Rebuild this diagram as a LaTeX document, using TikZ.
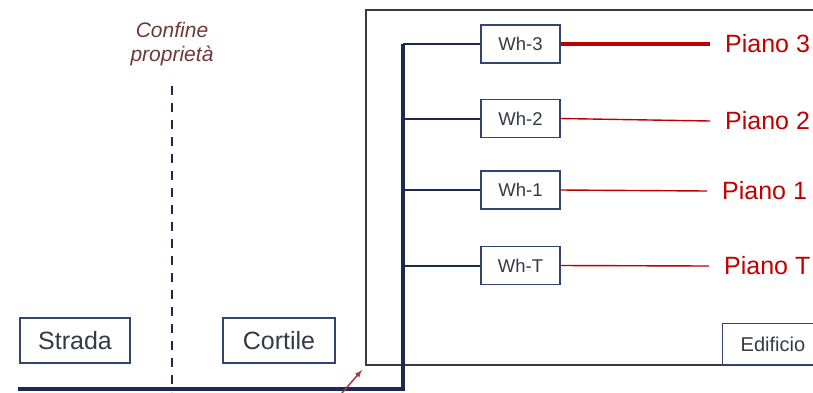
\documentclass[tikz,border=0pt]{standalone}
\usepackage{fontspec}
\setmainfont{Liberation Sans}
\definecolor{pipeblue}{HTML}{1B2A4E}
\definecolor{boxblue}{HTML}{33456E}
\definecolor{textgrey}{HTML}{363A44}
\definecolor{pianored}{HTML}{C00000}
\definecolor{confinered}{HTML}{6E3838}
\definecolor{wallgrey}{HTML}{3C3C3C}
\definecolor{arrowred}{HTML}{A03C3C}

\begin{document}
\begin{tikzpicture}[x=1pt,y=-1pt,
    place/.style={draw=boxblue,line width=1.3pt,fill=white,text=textgrey,
      font=\fontsize{25}{27}\selectfont,minimum width=110pt,minimum height=45pt},
    wh/.style={draw=boxblue,line width=1.3pt,fill=white,text=textgrey,
      font=\fontsize{18.5}{20}\selectfont,minimum width=79pt,minimum height=38pt},
    piano/.style={anchor=west,text=pianored,inner xsep=15pt,inner ysep=0pt,
      font=\fontsize{25}{27}\selectfont},
    pipe/.style={draw=pipeblue,line width=3.5pt},
    branch/.style={draw=pipeblue,line width=2pt},
    feed/.style={draw=pianored,line width=1.4pt}]
        \useasboundingbox (0,0) rectangle (813,392);
        \clip (0,0) rectangle (813,392);

        % edificio
        \draw[wallgrey,line width=2pt] (366,10) rectangle (860,365);
        \node[draw=boxblue,line width=1.3pt,fill=white,text=textgrey,anchor=west,
          font=\fontsize{20}{22}\selectfont,inner xsep=18pt,minimum height=41pt]
          (edificio) at (722,344) {Edificio};

        % confine
        \node[text=confinered,align=center,inner sep=0pt,
          font=\itshape\fontsize{21}{24}\selectfont] (confine) at (172,44) {Confine\\proprietà};
        \coordinate (bt) at (172,86);
        \coordinate (bb) at (172,392);
        \draw[pipeblue,line width=2.7pt,dash pattern=on 9pt off 8pt] (bt) -- (bb);

        \node[place] (strada) at (75,340.5) {Strada};
        \node[place,minimum width=112pt] (cortile) at (279,340.5) {Cortile};

        % contatori
        \node[wh] (wh3) at (520.5,44) {Wh-3};
        \node[wh] (wh2) at (520.5,118.5) {Wh-2};
        \node[wh] (wh1) at (520.5,190) {Wh-1};
        \node[wh] (wht) at (520.5,265.5) {Wh-T};

        \node[piano] (p3) at (710,44) {Piano 3};
        \node[piano] (p2) at (710,121) {Piano 2};
        \node[piano] (p1) at (707,191) {Piano 1};
        \node[piano] (pt) at (709,266) {Piano T};

        % montante
        \coordinate (in) at (18,389);
        \coordinate (riser) at (403,389);
        \draw[pipe] (in) -- (riser) -- (riser |- wh3.west);
        \foreach \m in {wh3,wh2,wh1,wht}
          \draw[branch] (\m.west -| riser) -- (\m.west);

        \draw[feed,line width=4pt] (wh3.east) -- (p3.west);
        \draw[feed] (wh2.east) -- (p2.west);
        \draw[feed] (wh1.east) -- (p1.west);
        \draw[feed] (wht.east) -- (pt.west);

        \coordinate (a0) at (342,393);
        \coordinate (a1) at (362,370);
        \draw[arrowred,line width=1.5pt,-latex] (a0) -- (a1);
\end{tikzpicture}
\end{document}
